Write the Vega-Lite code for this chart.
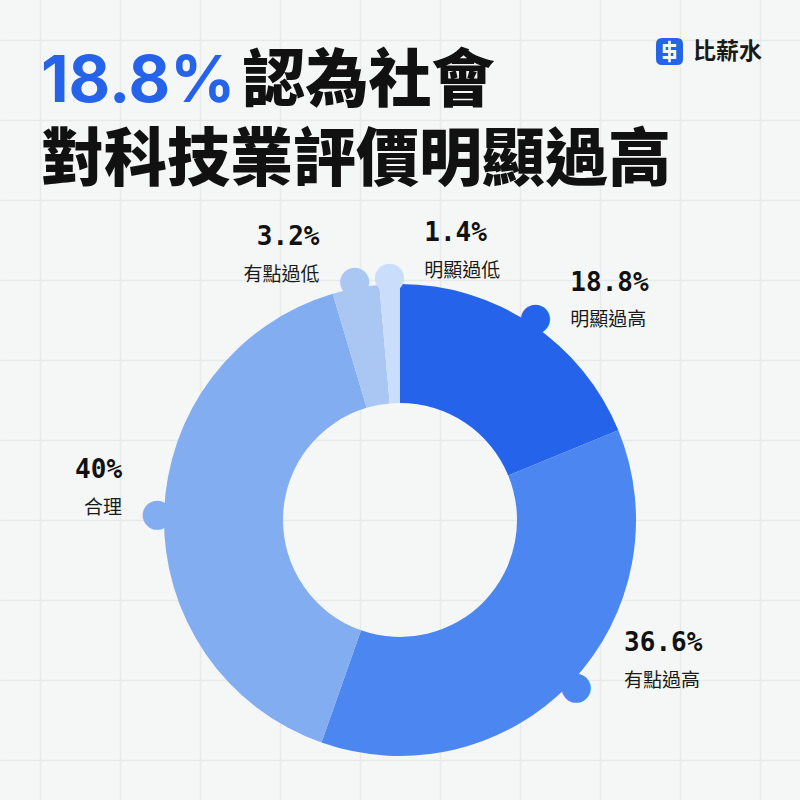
{
  "$schema": "https://vega.github.io/schema/vega-lite/v6.json",
  "width": 800,
  "height": 800,
  "autosize": "none",
  "padding": 0,
  "background": "#f5f7f7",
  "config": {"view": {"stroke": null}},
  "title": {
    "text": "18.8%",
    "subtitle": ["\u200b\u3000\u3000\u3000\u2009認為社會", "對科技業評價明顯過高"],
    "anchor": "start",
    "frame": "group",
    "orient": "top",
    "font": "Inter",
    "fontSize": 64,
    "fontWeight": 700,
    "color": "#2563EB",
    "subtitleFont": "Noto Sans CJK TC",
    "subtitleFontSize": 63,
    "subtitleFontWeight": 900,
    "subtitleColor": "#111111",
    "subtitleLineHeight": 79,
    "subtitlePadding": -64,
    "offset": -193,
    "dx": 41
  },
  "data": {
    "values": [
      {"cat": "明顯過高", "share": 0.188, "rank": 1},
      {"cat": "有點過高", "share": 0.366, "rank": 2},
      {"cat": "合理", "share": 0.40, "rank": 3},
      {"cat": "有點過低", "share": 0.032, "rank": 4},
      {"cat": "明顯過低", "share": 0.014, "rank": 5}
    ]
  },
  "encoding": {
    "x": {
      "datum": 5, "type": "quantitative",
      "scale": {"domain": [0, 10]},
      "axis": {"values": [0.5,1.5,2.5,3.5,4.5,5.5,6.5,7.5,8.5,9.5], "grid": true, "gridColor": "#e8eaea", "gridWidth": 1.5, "domain": false, "ticks": false, "labels": false, "title": null}
    },
    "y": {
      "datum": 6.5, "type": "quantitative",
      "scale": {"domain": [0, 10], "reverse": true},
      "axis": {"values": [0.5,1.5,2.5,3.5,4.5,5.5,6.5,7.5,8.5,9.5], "grid": true, "gridColor": "#e8eaea", "gridWidth": 1.5, "domain": false, "ticks": false, "labels": false, "title": null}
    }
  },
  "layer": [
    {
      "mark": {"type": "point", "opacity": 0, "filled": true},
      "encoding": {
        "fill": {
          "datum": "比薪水", "type": "nominal",
          "scale": {"range": ["#2563EB"]},
          "legend": {
            "orient": "top-right",
            "offset": 38,
            "padding": 0,
            "title": null,
            "symbolType": "M-0.55,-1 L0.55,-1 Q1,-1 1,-0.55 L1,0.55 Q1,1 0.55,1 L-0.55,1 Q-1,1 -1,0.55 L-1,-0.55 Q-1,-1 -0.55,-1 Z M0.5,-0.55 L-0.5,-0.55 L-0.5,0.11 L0.28,0.11 L0.28,0.33 L-0.5,0.33 L-0.5,0.55 L0.5,0.55 L0.5,-0.11 L-0.28,-0.11 L-0.28,-0.33 L0.5,-0.33 Z M0.1,-0.8 L-0.1,-0.8 L-0.1,-0.55 L0.1,-0.55 Z M0.1,0.55 L-0.1,0.55 L-0.1,0.8 L0.1,0.8 Z M0.1,-0.33 L-0.1,-0.33 L-0.1,-0.11 L0.1,-0.11 Z M0.1,0.11 L-0.1,0.11 L-0.1,0.33 L0.1,0.33 Z",
            "symbolSize": 729,
            "symbolOpacity": 1,
            "symbolStrokeWidth": 0,
            "labelFont": "Noto Sans CJK TC",
            "labelFontSize": 23,
            "labelFontWeight": 700,
            "labelColor": "#1a1a1a",
            "labelOffset": 10
          }
        }
      }
    },
    {
      "mark": {"type": "arc", "radius": 236, "radius2": 117},
      "encoding": {
        "theta": {"field": "share", "type": "quantitative", "stack": true},
        "order": {"field": "rank"},
        "color": {
          "field": "cat", "type": "nominal",
          "scale": {"domain": ["明顯過高", "有點過高", "合理", "有點過低", "明顯過低"], "range": ["#2563EB", "#4c86f0", "#82adf0", "#aac7f4", "#cadefb"]},
          "legend": null
        }
      }
    },
    {
      "mark": {"type": "text", "radius": 243, "font": "DejaVu Sans", "fontSize": 38, "baseline": "middle", "align": "center"},
      "encoding": {
        "theta": {"field": "share", "type": "quantitative", "stack": true},
        "order": {"field": "rank"},
        "text": {"value": "●"},
        "color": {"field": "cat", "type": "nominal", "legend": null}
      }
    },
    {
      "mark": {
        "type": "text", "radius": 243, "font": "DejaVu Sans Mono", "fontSize": 26, "fontWeight": "bold", "baseline": "alphabetic",
        "align": {"expr": "datum.cat === '合理' || datum.cat === '有點過低' ? 'right' : 'left'"},
        "dx": {"expr": "datum.cat === '合理' || datum.cat === '有點過低' ? -35 : (datum.cat === '有點過高' ? 48 : 35)"},
        "dy": {"expr": "datum.cat === '明顯過高' ? -27 : -36"},
        "color": "#111111"
      },
      "encoding": {
        "theta": {"field": "share", "type": "quantitative", "stack": true},
        "order": {"field": "rank"},
        "text": {"field": "share", "type": "quantitative", "format": ".3~%"}
      }
    },
    {
      "mark": {
        "type": "text", "radius": 243, "font": "Noto Sans CJK TC", "fontSize": 19, "baseline": "alphabetic",
        "align": {"expr": "datum.cat === '合理' || datum.cat === '有點過低' ? 'right' : 'left'"},
        "dx": {"expr": "datum.cat === '合理' || datum.cat === '有點過低' ? -35 : (datum.cat === '有點過高' ? 48 : 35)"},
        "dy": {"expr": "datum.cat === '明顯過高' ? 8 : 0"},
        "color": "#1a1a1a"
      },
      "encoding": {
        "theta": {"field": "share", "type": "quantitative", "stack": true},
        "order": {"field": "rank"},
        "text": {"field": "cat", "type": "nominal"}
      }
    }
  ]
}
